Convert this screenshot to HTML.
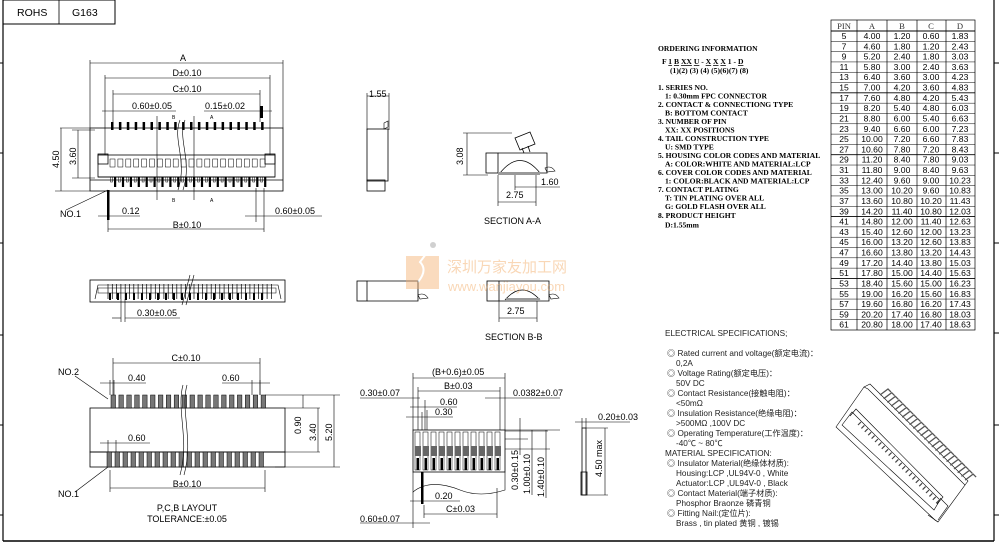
<!DOCTYPE html>
<html><head><meta charset="utf-8"><style>
html,body{margin:0;padding:0;background:#fff;}
svg{display:block}
text{font-family:"Liberation Sans","Noto Sans CJK SC",sans-serif;fill:#000}
.s{font-family:"Liberation Serif","Noto Serif CJK SC",serif;font-weight:bold;font-size:7.6px}
.t{font-family:"Liberation Serif",serif;font-size:8.6px;fill:#333}
.e{font-size:8.2px;fill:#222}
</style></head><body>
<svg id="sv" width="999" height="543" viewBox="0 0 999 543" xmlns="http://www.w3.org/2000/svg" fill="none" stroke="#000" stroke-width="0.8">
<!-- frame -->
<line x1="3" y1="0" x2="3" y2="541" stroke-width="1.2"/>
<line x1="3" y1="541" x2="994" y2="541" stroke-width="1.5"/>
<line x1="994" y1="0" x2="994" y2="541" stroke-width="1.2"/>
<g stroke-width="1">
<line x1="0" y1="63" x2="3" y2="63"/><line x1="0" y1="153" x2="3" y2="153"/><line x1="0" y1="243" x2="3" y2="243"/><line x1="0" y1="335" x2="3" y2="335"/><line x1="0" y1="425" x2="3" y2="425"/><line x1="0" y1="515" x2="3" y2="515"/>
<line x1="994" y1="63" x2="999" y2="63"/><line x1="994" y1="153" x2="999" y2="153"/><line x1="994" y1="243" x2="999" y2="243"/><line x1="994" y1="333" x2="999" y2="333"/><line x1="994" y1="425" x2="999" y2="425"/><line x1="994" y1="515" x2="999" y2="515"/>
</g>
<rect x="3" y="0" width="112" height="24" stroke-width="1"/>
<line x1="59" y1="0" x2="59" y2="24"/>
<text x="17" y="16" font-size="10.5" stroke="none">ROHS</text>
<text x="72" y="16" font-size="10.5" stroke="none">G163</text>

<!-- TOP VIEW -->
<g stroke-width="0.6">
<line x1="90" y1="60" x2="90" y2="128"/><line x1="283" y1="60" x2="283" y2="128"/>
<line x1="90" y1="63" x2="283" y2="63"/>
<line x1="105" y1="75" x2="105" y2="155"/><line x1="270" y1="75" x2="270" y2="155"/>
<line x1="105" y1="78" x2="270" y2="78"/>
<line x1="113" y1="90" x2="113" y2="122"/><line x1="260" y1="90" x2="260" y2="122"/>
<line x1="113" y1="94" x2="260" y2="94"/>
<line x1="102" y1="111" x2="176" y2="111"/><line x1="204" y1="111" x2="272" y2="111"/>
<line x1="60" y1="128" x2="90" y2="128"/><line x1="55" y1="191" x2="90" y2="191"/>
<line x1="61" y1="128" x2="61" y2="191"/>
<line x1="72" y1="130" x2="95" y2="130"/><line x1="72" y1="178" x2="95" y2="178"/>
<line x1="78" y1="130" x2="78" y2="178"/>
<line x1="157" y1="116" x2="157" y2="200"/><line x1="194" y1="116" x2="194" y2="200"/>
<line x1="108" y1="191" x2="108" y2="232"/><line x1="264" y1="188" x2="264" y2="232"/><line x1="256" y1="188" x2="256" y2="222"/>
<line x1="108" y1="229" x2="264" y2="229"/>
<line x1="98" y1="216" x2="140" y2="216"/><line x1="245" y1="216" x2="322" y2="216"/>
<line x1="66" y1="210" x2="108" y2="190"/>
</g>
<rect x="260" y="106" width="3" height="12" fill="#000" stroke="none"/>
<rect x="107" y="190" width="2.5" height="30" fill="#000" stroke="none"/>
<rect x="90" y="128" width="193" height="63"/>
<rect x="98" y="155" width="177" height="22"/>
<rect x="98" y="154" width="10" height="10"/><rect x="265" y="154" width="10" height="10"/>
<line x1="98" y1="177" x2="275" y2="177"/>
<line x1="90" y1="180" x2="283" y2="180"/>
<g id="toppins"></g>
<path d="M180 120 C172 140 188 160 178 190 M185 120 C177 140 193 160 183 190" stroke-width="0.6"/>
<text x="183" y="61" font-size="9" text-anchor="middle" stroke="none">A</text>
<text x="187" y="76" font-size="9" text-anchor="middle" stroke="none">D±0.10</text>
<text x="187" y="92" font-size="9" text-anchor="middle" stroke="none">C±0.10</text>
<text x="132" y="109" font-size="9" stroke="none">0.60±0.05</text>
<text x="205" y="109" font-size="9" stroke="none">0.15±0.02</text>
<text x="172" y="119" font-size="5" stroke="none">B</text><text x="210" y="119" font-size="5" stroke="none">A</text>
<text x="172" y="202" font-size="5" stroke="none">B</text><text x="210" y="202" font-size="5" stroke="none">A</text>
<text x="59" y="168" font-size="9" transform="rotate(-90 59 168)" stroke="none">4.50</text>
<text x="76" y="165" font-size="9" transform="rotate(-90 76 165)" stroke="none">3.60</text>
<text x="60" y="217" font-size="9" stroke="none">NO.1</text>
<text x="122" y="214" font-size="9" stroke="none">0.12</text>
<text x="275" y="214" font-size="9" stroke="none">0.60±0.05</text>
<text x="187" y="228" font-size="9" text-anchor="middle" stroke="none">B±0.10</text>

<!-- SIDE VIEW -->
<g stroke-width="0.6">
<line x1="367" y1="93" x2="367" y2="130"/><line x1="389" y1="93" x2="389" y2="130"/>
<line x1="367" y1="96" x2="389" y2="96"/>
</g>
<rect x="367" y="129" width="21" height="52"/>
<rect x="367" y="180" width="18" height="11"/>
<path d="M384 123 l4 -2 l0 6 l-4 2z" stroke-width="0.6"/>
<text x="369" y="97" font-size="9" stroke="none">1.55</text>

<!-- SECTION A-A -->
<rect x="486" y="153" width="12" height="20"/>
<path d="M498 153 H547 V173 H498" />
<path d="M500 173 Q520 148 540 173" stroke-width="0.7"/>
<rect x="498" y="172" width="42" height="3" fill="#999" stroke="none"/>
<path d="M515 138 l15 -6 l5 12 l-15 6z"/>
<line x1="522" y1="148" x2="524" y2="153"/><line x1="528" y1="146" x2="530" y2="152"/>
<path d="M545 168 q6 -3 10 3 l-8 1z" stroke-width="0.6"/>
<g stroke-width="0.6">
<line x1="463" y1="133" x2="512" y2="133"/><line x1="463" y1="175" x2="488" y2="175"/>
<line x1="467" y1="133" x2="467" y2="175"/>
<line x1="498" y1="175" x2="498" y2="206"/><line x1="536" y1="175" x2="536" y2="206"/>
<line x1="498" y1="202" x2="536" y2="202"/>
<line x1="515" y1="175" x2="515" y2="190"/><line x1="515" y1="187" x2="560" y2="187"/>
</g>
<text x="463" y="165" font-size="9" transform="rotate(-90 463 165)" stroke="none">3.08</text>
<text x="541" y="185" font-size="9" stroke="none">1.60</text>
<text x="506" y="198" font-size="9" stroke="none">2.75</text>
<text x="484" y="224" font-size="9" stroke="none">SECTION  A-A</text>

<!-- SECTION B-B -->
<rect x="357" y="281" width="10" height="20"/>
<path d="M367 281 H418 V301 H367"/>
<path d="M418 295 q6 -3 10 3 l-8 1z" stroke-width="0.6"/>
<rect x="487" y="281" width="12" height="20"/>
<path d="M499 281 H549 V301 H499"/>
<path d="M505 300 Q522 280 540 300" stroke-width="0.7"/>
<rect x="506" y="298" width="34" height="3" fill="#999" stroke="none"/>
<path d="M549 295 q6 -3 10 3 l-8 1z" stroke-width="0.6"/>
<g stroke-width="0.6">
<line x1="499" y1="301" x2="499" y2="322"/><line x1="537" y1="301" x2="537" y2="322"/>
<line x1="499" y1="318" x2="537" y2="318"/>
</g>
<text x="507" y="314" font-size="9" stroke="none">2.75</text>
<text x="485" y="340" font-size="9" stroke="none">SECTION  B-B</text>

<!-- watermark -->
<g opacity="0.45">
<rect x="406" y="256" width="33" height="33" fill="#f4b070" stroke="none"/>
<path d="M432 246 L420 262 Q428 270 418 282" stroke="#fff" stroke-width="2"/>
<circle cx="433" cy="245" r="3" fill="#999" stroke="none"/>
<text x="447" y="272" font-size="15" style="fill:#f2a860" stroke="none">深圳万家友加工网</text>
<text x="448" y="291" font-size="13" style="fill:#f2a860" stroke="none">www.wanjiayou.com</text>
</g>

<!-- MIDDLE SIDE VIEW -->
<rect x="90" y="280" width="195" height="22"/>
<path d="M95 299 l3 -14 H278 l3 14" stroke-width="0.6"/>
<rect x="98" y="288" width="178" height="5" stroke-width="0.5"/>
<g id="midpins"></g>
<path d="M190 275 l-8 30 M194 275 l-8 30" stroke-width="0.6"/>
<g stroke-width="0.6">
<line x1="121" y1="299" x2="121" y2="322"/><line x1="125" y1="299" x2="125" y2="322"/>
<line x1="112" y1="318" x2="121" y2="318"/><line x1="125" y1="318" x2="180" y2="318"/>
</g>
<text x="137" y="316" font-size="9" stroke="none">0.30±0.05</text>

<!-- PCB LAYOUT -->
<rect x="90" y="408" width="195" height="44"/>
<rect x="90" y="452" width="195" height="15"/>
<g id="pcbpads"></g>
<path d="M183 385 C176 410 190 440 180 475 M187 385 C180 410 194 440 184 475" stroke="#000" stroke-width="0.6"/>
<g stroke-width="0.6">
<line x1="113" y1="358" x2="113" y2="395"/><line x1="260" y1="358" x2="260" y2="395"/>
<line x1="113" y1="363" x2="260" y2="363"/>
<line x1="110" y1="380" x2="110" y2="395"/><line x1="114" y1="380" x2="114" y2="395"/>
<line x1="100" y1="383" x2="146" y2="383"/><line x1="222" y1="383" x2="270" y2="383"/>
<line x1="252" y1="380" x2="252" y2="395"/><line x1="260" y1="380" x2="260" y2="395"/>
<line x1="100" y1="443" x2="150" y2="443"/><line x1="108" y1="440" x2="108" y2="452"/><line x1="116" y1="440" x2="116" y2="452"/>
<line x1="110" y1="470" x2="110" y2="492"/><line x1="265" y1="470" x2="265" y2="492"/>
<line x1="110" y1="488" x2="265" y2="488"/>
<line x1="265" y1="395" x2="340" y2="395"/><line x1="285" y1="408" x2="320" y2="408"/><line x1="285" y1="452" x2="320" y2="452"/><line x1="275" y1="467" x2="340" y2="467"/>
<line x1="303" y1="395" x2="303" y2="408"/><line x1="318" y1="408" x2="318" y2="452"/><line x1="334" y1="395" x2="334" y2="467"/>
<line x1="75" y1="376" x2="108" y2="399"/><line x1="75" y1="492" x2="108" y2="467"/>
</g>
<text x="186" y="361" font-size="9" text-anchor="middle" stroke="none">C±0.10</text>
<text x="128" y="381" font-size="9" stroke="none">0.40</text>
<text x="222" y="381" font-size="9" stroke="none">0.60</text>
<text x="128" y="441" font-size="9" stroke="none">0.60</text>
<text x="187" y="487" font-size="9" text-anchor="middle" stroke="none">B±0.10</text>
<text x="58" y="375" font-size="9" stroke="none">NO.2</text>
<text x="58" y="497" font-size="9" stroke="none">NO.1</text>
<text x="301" y="434" font-size="9" transform="rotate(-90 301 434)" stroke="none">0.90</text>
<text x="316" y="441" font-size="9" transform="rotate(-90 316 441)" stroke="none">3.40</text>
<text x="332" y="441" font-size="9" transform="rotate(-90 332 441)" stroke="none">5.20</text>
<text x="187" y="511" font-size="9" text-anchor="middle" stroke="none">P,C,B LAYOUT</text>
<text x="187" y="522" font-size="9" text-anchor="middle" stroke="none">TOLERANCE:±0.05</text>

<!-- BOTTOM MIDDLE -->
<rect x="413" y="430" width="92" height="42"/>
<path d="M413 472 V492 Q430 478 460 490 Q480 498 505 490 V472" stroke-width="0.6"/>
<g id="bmpads"></g>
<rect x="421" y="472" width="2.5" height="32" fill="#000" stroke="none"/>
<g stroke-width="0.6">
<line x1="413" y1="373" x2="413" y2="430"/><line x1="505" y1="373" x2="505" y2="430"/>
<line x1="413" y1="378" x2="505" y2="378"/>
<line x1="418" y1="387" x2="418" y2="430"/><line x1="500" y1="387" x2="500" y2="430"/>
<line x1="418" y1="391" x2="500" y2="391"/>
<line x1="360" y1="398" x2="420" y2="398"/><line x1="485" y1="398" x2="560" y2="398"/>
<line x1="410" y1="407" x2="457" y2="407"/><line x1="406" y1="417" x2="453" y2="417"/>
<line x1="422" y1="412" x2="422" y2="430"/><line x1="425" y1="400" x2="425" y2="430"/><line x1="427" y1="410" x2="427" y2="430"/>
<line x1="505" y1="431" x2="548" y2="431"/><line x1="505" y1="439" x2="528" y2="439"/><line x1="505" y1="449" x2="550" y2="449"/><line x1="505" y1="430" x2="560" y2="430"/>
<line x1="520" y1="418" x2="520" y2="455"/><line x1="532" y1="430" x2="532" y2="495"/><line x1="546" y1="430" x2="546" y2="498"/>
<line x1="410" y1="501" x2="460" y2="501"/>
<line x1="424" y1="505" x2="424" y2="518"/><line x1="497" y1="488" x2="497" y2="518"/>
<line x1="424" y1="514" x2="497" y2="514"/>
<line x1="360" y1="523" x2="430" y2="523"/><line x1="413" y1="492" x2="413" y2="528"/>
</g>
<text x="432" y="375" font-size="9" stroke="none">(B+0.6)±0.05</text>
<text x="444" y="389" font-size="9" stroke="none">B±0.03</text>
<text x="360" y="396" font-size="9" stroke="none">0.30±0.07</text>
<text x="513" y="396" font-size="9" stroke="none">0.0382±0.07</text>
<text x="440" y="405" font-size="9" stroke="none">0.60</text>
<text x="435" y="415" font-size="9" stroke="none">0.30</text>
<text x="435" y="499" font-size="9" stroke="none">0.20</text>
<text x="446" y="512" font-size="9" stroke="none">C±0.03</text>
<text x="360" y="522" font-size="9" stroke="none">0.60±0.07</text>
<text x="518" y="490" font-size="9" transform="rotate(-90 518 490)" stroke="none">0.30±0.15</text>
<text x="530" y="494" font-size="9" transform="rotate(-90 530 494)" stroke="none">1.00±0.10</text>
<text x="544" y="497" font-size="9" transform="rotate(-90 544 497)" stroke="none">1.40±0.10</text>
<!-- narrow -->
<rect x="582" y="428" width="4" height="67"/>
<rect x="581" y="472" width="6" height="23"/>
<g stroke-width="0.6">
<line x1="575" y1="422" x2="630" y2="422"/><line x1="582" y1="418" x2="582" y2="428"/><line x1="586" y1="418" x2="586" y2="428"/>
<line x1="586" y1="428" x2="608" y2="428"/><line x1="587" y1="495" x2="608" y2="495"/>
<line x1="605" y1="428" x2="605" y2="495"/>
</g>
<text x="598" y="420" font-size="9" stroke="none">0.20±0.03</text>
<text x="602" y="477" font-size="9" transform="rotate(-90 602 477)" stroke="none">4.50 max</text>

<!-- ORDERING -->
<g stroke="none">
<text class="s" x="658" y="51" font-size="8.5">ORDERING  INFORMATION</text>
<text class="s" x="662" y="64" font-size="8.5">F <tspan text-decoration="underline">1</tspan> <tspan text-decoration="underline">B</tspan> <tspan text-decoration="underline">XX</tspan> <tspan text-decoration="underline">U</tspan>  -  <tspan text-decoration="underline">X</tspan> <tspan text-decoration="underline">X</tspan> <tspan text-decoration="underline">X</tspan> 1  -  <tspan text-decoration="underline">D</tspan></text>
<text class="s" x="670" y="73" font-size="6.5">(1)(2) (3) (4)      (5)(6)(7)          (8)</text>
<text class="s" x="658" y="90">1. SERIES NO.</text>
<text class="s" x="665" y="98.5">1: 0.30mm FPC CONNECTOR</text>
<text class="s" x="658" y="107">2. CONTACT &amp; CONNECTIONG TYPE</text>
<text class="s" x="665" y="115.5">B: BOTTOM CONTACT</text>
<text class="s" x="658" y="124">3. NUMBER OF PIN</text>
<text class="s" x="665" y="132.5">XX: XX POSITIONS</text>
<text class="s" x="658" y="141">4. TAIL CONSTRUCTION TYPE</text>
<text class="s" x="665" y="149.5">U: SMD TYPE</text>
<text class="s" x="658" y="158">5. HOUSING COLOR CODES AND MATERIAL</text>
<text class="s" x="665" y="166.5">A: COLOR:WHITE AND MATERIAL:LCP</text>
<text class="s" x="658" y="175">6. COVER COLOR CODES AND MATERIAL</text>
<text class="s" x="665" y="183.5">1: COLOR:BLACK AND MATERIAL:LCP</text>
<text class="s" x="658" y="192">7. CONTACT PLATING</text>
<text class="s" x="665" y="200.5">T: TIN PLATING OVER ALL</text>
<text class="s" x="665" y="209">G: GOLD FLASH OVER ALL</text>
<text class="s" x="658" y="218">8. PRODUCT HEIGHT</text>
<text class="s" x="665" y="227.5">D:1.55mm</text>
</g>

<!-- ELECTRICAL -->
<g stroke="none" class="e">
<text class="e" x="665" y="336">ELECTRICAL SPECIFICATIONS;</text>
<text class="e" x="667" y="356">◎ Rated current and voltage(额定电流)：</text>
<text class="e" x="676" y="366">0,2A</text>
<text class="e" x="667" y="376">◎ Voltage Rating(额定电压)：</text>
<text class="e" x="676" y="386">50V DC</text>
<text class="e" x="667" y="396">◎ Contact Resistance(接触电阻)：</text>
<text class="e" x="676" y="406">&lt;50mΩ</text>
<text class="e" x="667" y="416">◎ Insulation Resistance(绝缘电阻)：</text>
<text class="e" x="676" y="426">&gt;500MΩ  ,100V DC</text>
<text class="e" x="667" y="436">◎ Operating Temperature(工作温度)：</text>
<text class="e" x="676" y="446">-40℃ ~ 80℃</text>
<text class="e" x="665" y="456">MATERIAL SPECIFICATION:</text>
<text class="e" x="667" y="466">◎ Insulator Material(绝缘体材质):</text>
<text class="e" x="676" y="476">Housing:LCP ,UL94V-0 , White</text>
<text class="e" x="676" y="486">Actuator:LCP ,UL94V-0 , Black</text>
<text class="e" x="667" y="496">◎ Contact Material(端子材质):</text>
<text class="e" x="676" y="506">Phosphor Braonze 磷青铜</text>
<text class="e" x="667" y="516">◎ Fitting Nail:(定位片):</text>
<text class="e" x="676" y="526">Brass ,  tin plated  黄铜 , 镀锡</text>
</g>

<!-- TABLE -->
<g id="tbl" stroke-width="0.7">
<rect x="831" y="20" width="144" height="310"/>
<line x1="857" y1="20" x2="857" y2="330"/><line x1="887" y1="20" x2="887" y2="330"/><line x1="917" y1="20" x2="917" y2="330"/><line x1="946" y1="20" x2="946" y2="330"/>
</g>
<g id="tt" class="t" stroke="none" text-anchor="middle">
<text class="t" x="844" y="29">PIN</text><text class="t" x="872" y="29">A</text><text class="t" x="902" y="29">B</text><text class="t" x="931" y="29">C</text><text class="t" x="960" y="29">D</text>
</g>

<!-- 3D VIEW -->
<g stroke-width="0.6">
<path d="M836 427 L864 387 L868 389 L965 485 L938 522 L935 520 Z"/>
<path d="M842 425 L852 412 L940 500 L934 510 Z"/>
<path d="M864 387 L870 384 L968 481 L965 485"/>
<path d="M850 416 L856 409 L943 497 L937 504"/>
<path d="M928 515 l10 7 M940 498 l8 8 l-10 14"/>
</g>
<g id="d3"></g>
</svg>
<script>
var NS="http://www.w3.org/2000/svg";
function el(p,t,a){var e=document.createElementNS(NS,t);for(var k in a)e.setAttribute(k,a[k]);document.getElementById(p).appendChild(e);return e;}
// top view pins
for(var i=0;i<20;i++){var x=111+i*7.9;
 el("toppins","rect",{x:x,y:122,width:2.5,height:8,fill:"#000",stroke:"none"});
 el("toppins","rect",{x:x-1,y:159,width:5,height:8,"stroke-width":0.5});
 el("toppins","rect",{x:x+3,y:177,width:2.2,height:10,fill:"#000",stroke:"none"});
 el("toppins","rect",{x:x-0.5,y:177,width:2,height:5,"stroke-width":0.5});
}
for(var i=0;i<39;i++){el("midpins","line",{x1:108+i*4.3,y1:284,x2:108+i*4.3,y2:299,"stroke-width":0.7});}
for(var i=0;i<20;i++){el("midpins","rect",{x:109+i*8,y:293,width:2,height:7,fill:"#000",stroke:"none"});}
// pcb pads
for(var i=0;i<20;i++){
 el("pcbpads","rect",{x:111+i*7.9,y:395,width:4.5,height:13,fill:"#777",stroke:"#000","stroke-width":0.5});
 el("pcbpads","rect",{x:107+i*8,y:452,width:4.5,height:15,fill:"#777",stroke:"#000","stroke-width":0.5});
}
for(var i=0;i<11;i++){var x=415+i*8;
 el("bmpads","rect",{x:x,y:432,width:5,height:38,fill:"#fff",stroke:"#000","stroke-width":0.5});
 el("bmpads","rect",{x:x,y:446,width:6,height:10,fill:"#666",stroke:"none"});
 el("bmpads","rect",{x:x+1.5,y:458,width:2.5,height:12,fill:"#000",stroke:"none"});
}
for(var i=0;i<24;i++){var x=880+i*3.7,y=395+i*3.7;
 el("d3","path",{d:"M"+x+" "+y+" l8 -6 l3 3","stroke-width":1.3,stroke:"#555"});
 el("d3","line",{x1:858+i*3.4,y1:425+i*3.4,x2:861+i*3.4,y2:422+i*3.4,"stroke-width":1.2,stroke:"#444"});
}
// table rows
var R=[["5","4.00","1.20","0.60","1.83"],["7","4.60","1.80","1.20","2.43"],["9","5.20","2.40","1.80","3.03"],["11","5.80","3.00","2.40","3.63"],["13","6.40","3.60","3.00","4.23"],["15","7.00","4.20","3.60","4.83"],["17","7.60","4.80","4.20","5.43"],["19","8.20","5.40","4.80","6.03"],["21","8.80","6.00","5.40","6.63"],["23","9.40","6.60","6.00","7.23"],["25","10.00","7.20","6.60","7.83"],["27","10.60","7.80","7.20","8.43"],["29","11.20","8.40","7.80","9.03"],["31","11.80","9.00","8.40","9.63"],["33","12.40","9.60","9.00","10.23"],["35","13.00","10.20","9.60","10.83"],["37","13.60","10.80","10.20","11.43"],["39","14.20","11.40","10.80","12.03"],["41","14.80","12.00","11.40","12.63"],["43","15.40","12.60","12.00","13.23"],["45","16.00","13.20","12.60","13.83"],["47","16.60","13.80","13.20","14.43"],["49","17.20","14.40","13.80","15.03"],["51","17.80","15.00","14.40","15.63"],["53","18.40","15.60","15.00","16.23"],["55","19.00","16.20","15.60","16.83"],["57","19.60","16.80","16.20","17.43"],["59","20.20","17.40","16.80","18.03"],["61","20.80","18.00","17.40","18.63"]];
var cx=[844,872,902,931,960];
for(var r=0;r<R.length;r++){var y=31+r*10.31;
 el("tbl","line",{x1:831,y1:y,x2:975,y2:y,"stroke-width":(r%6==0?0.9:0.5)});
}
</script>
<svg width="0" height="0"></svg>
<div style="position:absolute;left:0;top:0;width:999px;height:543px;pointer-events:none">
<svg width="999" height="543" viewBox="0 0 999 543" xmlns="http://www.w3.org/2000/svg">
<g font-family="Liberation Serif, serif" font-size="8.6" fill="#333" text-anchor="middle">
<text x="844" y="39">5</text><text x="872" y="39">4.00</text><text x="902" y="39">1.20</text><text x="931" y="39">0.60</text><text x="960" y="39">1.83</text>
<text x="844" y="49.3">7</text><text x="872" y="49.3">4.60</text><text x="902" y="49.3">1.80</text><text x="931" y="49.3">1.20</text><text x="960" y="49.3">2.43</text>
<text x="844" y="59.6">9</text><text x="872" y="59.6">5.20</text><text x="902" y="59.6">2.40</text><text x="931" y="59.6">1.80</text><text x="960" y="59.6">3.03</text>
<text x="844" y="69.9">11</text><text x="872" y="69.9">5.80</text><text x="902" y="69.9">3.00</text><text x="931" y="69.9">2.40</text><text x="960" y="69.9">3.63</text>
<text x="844" y="80.2">13</text><text x="872" y="80.2">6.40</text><text x="902" y="80.2">3.60</text><text x="931" y="80.2">3.00</text><text x="960" y="80.2">4.23</text>
<text x="844" y="90.6">15</text><text x="872" y="90.6">7.00</text><text x="902" y="90.6">4.20</text><text x="931" y="90.6">3.60</text><text x="960" y="90.6">4.83</text>
<text x="844" y="100.9">17</text><text x="872" y="100.9">7.60</text><text x="902" y="100.9">4.80</text><text x="931" y="100.9">4.20</text><text x="960" y="100.9">5.43</text>
<text x="844" y="111.2">19</text><text x="872" y="111.2">8.20</text><text x="902" y="111.2">5.40</text><text x="931" y="111.2">4.80</text><text x="960" y="111.2">6.03</text>
<text x="844" y="121.5">21</text><text x="872" y="121.5">8.80</text><text x="902" y="121.5">6.00</text><text x="931" y="121.5">5.40</text><text x="960" y="121.5">6.63</text>
<text x="844" y="131.8">23</text><text x="872" y="131.8">9.40</text><text x="902" y="131.8">6.60</text><text x="931" y="131.8">6.00</text><text x="960" y="131.8">7.23</text>
<text x="844" y="142.1">25</text><text x="872" y="142.1">10.00</text><text x="902" y="142.1">7.20</text><text x="931" y="142.1">6.60</text><text x="960" y="142.1">7.83</text>
<text x="844" y="152.4">27</text><text x="872" y="152.4">10.60</text><text x="902" y="152.4">7.80</text><text x="931" y="152.4">7.20</text><text x="960" y="152.4">8.43</text>
<text x="844" y="162.7">29</text><text x="872" y="162.7">11.20</text><text x="902" y="162.7">8.40</text><text x="931" y="162.7">7.80</text><text x="960" y="162.7">9.03</text>
<text x="844" y="173">31</text><text x="872" y="173">11.80</text><text x="902" y="173">9.00</text><text x="931" y="173">8.40</text><text x="960" y="173">9.63</text>
<text x="844" y="183.3">33</text><text x="872" y="183.3">12.40</text><text x="902" y="183.3">9.60</text><text x="931" y="183.3">9.00</text><text x="960" y="183.3">10.23</text>
<text x="844" y="193.7">35</text><text x="872" y="193.7">13.00</text><text x="902" y="193.7">10.20</text><text x="931" y="193.7">9.60</text><text x="960" y="193.7">10.83</text>
<text x="844" y="204">37</text><text x="872" y="204">13.60</text><text x="902" y="204">10.80</text><text x="931" y="204">10.20</text><text x="960" y="204">11.43</text>
<text x="844" y="214.3">39</text><text x="872" y="214.3">14.20</text><text x="902" y="214.3">11.40</text><text x="931" y="214.3">10.80</text><text x="960" y="214.3">12.03</text>
<text x="844" y="224.6">41</text><text x="872" y="224.6">14.80</text><text x="902" y="224.6">12.00</text><text x="931" y="224.6">11.40</text><text x="960" y="224.6">12.63</text>
<text x="844" y="234.9">43</text><text x="872" y="234.9">15.40</text><text x="902" y="234.9">12.60</text><text x="931" y="234.9">12.00</text><text x="960" y="234.9">13.23</text>
<text x="844" y="245.2">45</text><text x="872" y="245.2">16.00</text><text x="902" y="245.2">13.20</text><text x="931" y="245.2">12.60</text><text x="960" y="245.2">13.83</text>
<text x="844" y="255.5">47</text><text x="872" y="255.5">16.60</text><text x="902" y="255.5">13.80</text><text x="931" y="255.5">13.20</text><text x="960" y="255.5">14.43</text>
<text x="844" y="265.8">49</text><text x="872" y="265.8">17.20</text><text x="902" y="265.8">14.40</text><text x="931" y="265.8">13.80</text><text x="960" y="265.8">15.03</text>
<text x="844" y="276.1">51</text><text x="872" y="276.1">17.80</text><text x="902" y="276.1">15.00</text><text x="931" y="276.1">14.40</text><text x="960" y="276.1">15.63</text>
<text x="844" y="286.4">53</text><text x="872" y="286.4">18.40</text><text x="902" y="286.4">15.60</text><text x="931" y="286.4">15.00</text><text x="960" y="286.4">16.23</text>
<text x="844" y="296.8">55</text><text x="872" y="296.8">19.00</text><text x="902" y="296.8">16.20</text><text x="931" y="296.8">15.60</text><text x="960" y="296.8">16.83</text>
<text x="844" y="307.1">57</text><text x="872" y="307.1">19.60</text><text x="902" y="307.1">16.80</text><text x="931" y="307.1">16.20</text><text x="960" y="307.1">17.43</text>
<text x="844" y="317.4">59</text><text x="872" y="317.4">20.20</text><text x="902" y="317.4">17.40</text><text x="931" y="317.4">16.80</text><text x="960" y="317.4">18.03</text>
<text x="844" y="327.7">61</text><text x="872" y="327.7">20.80</text><text x="902" y="327.7">18.00</text><text x="931" y="327.7">17.40</text><text x="960" y="327.7">18.63</text>
</g>
</svg>
</div>
</body></html>
